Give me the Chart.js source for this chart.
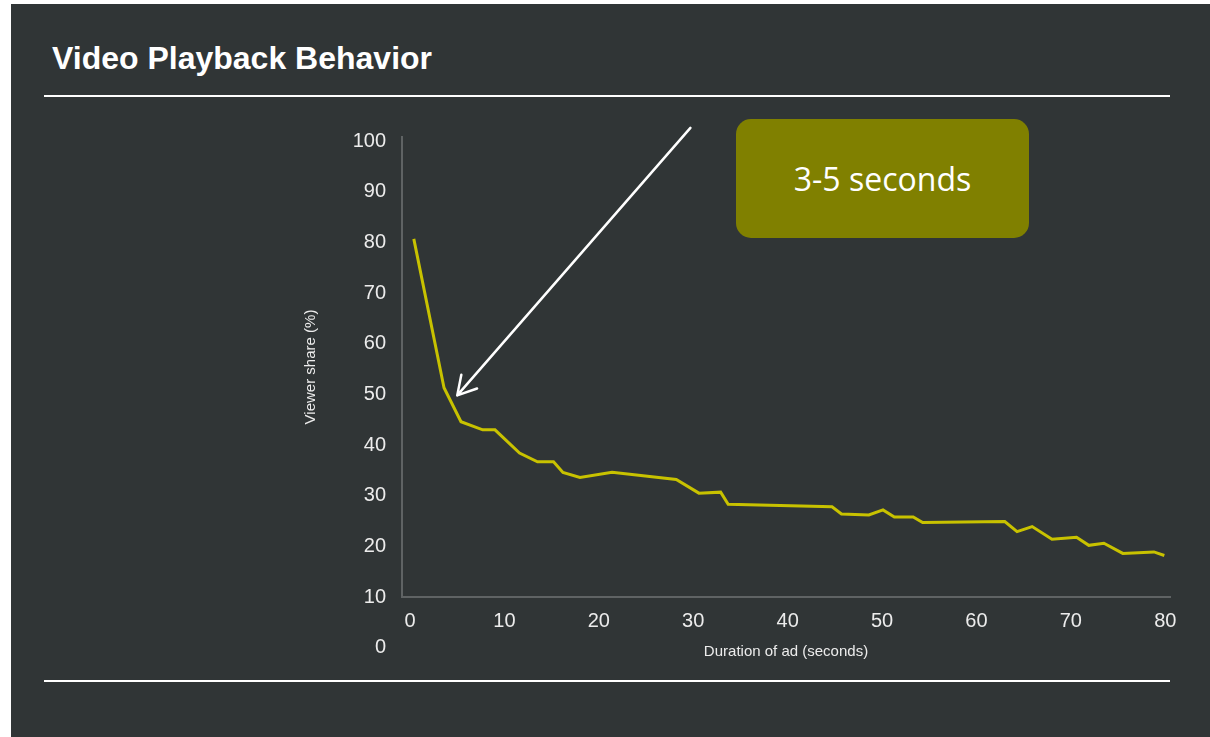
<!DOCTYPE html>
<html>
<head>
<meta charset="utf-8">
<script src="https://cdn.jsdelivr.net/npm/chart.js@4"></script>
<style>
    body { margin: 0; background: #ffffff; }
    #page {
        position: absolute; left: 11px; top: 4px; width: 1199px; height: 733px;
        background: #303536; overflow: hidden;
    }
    #title {
        position: absolute; left: 41px; top: 36px;
        font: bold 32px "Liberation Sans", Arial, sans-serif; color: #ffffff;
    }
    .rule { position: absolute; left: 33px; width: 1126px; height: 2px; background: #ffffff; }
    #box {
        position: absolute; left: 725px; top: 115px; width: 293px; height: 119px;
        background: #808000; border-radius: 15px;
        display: flex; align-items: center; justify-content: center;
        font: 32px "Open Sans", sans-serif; color: #ffffff;
    }
    #wrap { position: absolute; left: -11px; top: -4px; width: 1210px; height: 737px; }
</style>
</head>
<body>
<div id="page">
    <div id="title">Video Playback Behavior</div>
    <div class="rule" style="top: 91px;"></div>
    <div class="rule" style="top: 676px;"></div>
    <div id="wrap"><canvas id="playback"></canvas></div>
    <div id="box">3-5 seconds</div>
</div>

<script>
// data
const xSeconds = [0.4, 3.6, 5.4, 7.7, 9.0, 11.6, 13.5, 15.2, 16.2, 18.0, 21.4, 28.2, 30.6, 32.9, 33.7,
    44.7, 45.7, 48.6, 50.1, 51.3, 53.3, 54.3, 63.0, 64.3, 65.9, 68.0, 70.6, 71.9, 73.5, 75.5, 78.8, 79.9];
const viewerShare = [80.7, 51.3, 44.6, 43.0, 43.0, 38.4, 36.7, 36.7, 34.6, 33.6, 34.6, 33.2, 30.5, 30.7, 28.3,
    27.8, 26.4, 26.2, 27.2, 25.8, 25.8, 24.7, 24.9, 22.9, 23.9, 21.4, 21.8, 20.2, 20.6, 18.6, 18.9, 18.2];
const xTicks = [0, 10, 20, 30, 40, 50, 60, 70, 80];
const yTicks = [0, 10, 20, 30, 40, 50, 60, 70, 80, 90, 100];

// arrow annotation, in data units
const arrowTail = { x: 29.7, y: 102.6 };
const arrowTip = { x: 5.0, y: 49.8 };

const tickColor = "#ececec";
const axisColor = "#5f6364";

const arrowPlugin = {
    id: "arrow",
    afterDraw(chart) {
        const { ctx, scales } = chart;
        const x1 = scales.x.getPixelForValue(arrowTail.x), y1 = scales.y.getPixelForValue(arrowTail.y);
        const x2 = scales.x.getPixelForValue(arrowTip.x), y2 = scales.y.getPixelForValue(arrowTip.y);
        const ang = Math.atan2(y1 - y2, x1 - x2);
        const len = 21;
        ctx.save();
        ctx.strokeStyle = "#ffffff";
        ctx.lineWidth = 2.5;
        ctx.lineCap = "round";
        ctx.beginPath();
        ctx.moveTo(x1, y1);
        ctx.lineTo(x2, y2);
        [-0.52, 0.52].forEach(a => {
            ctx.moveTo(x2, y2);
            ctx.lineTo(x2 + len * Math.cos(ang + a), y2 + len * Math.sin(ang + a));
        });
        ctx.stroke();
        ctx.restore();
    }
};

new Chart(document.getElementById("playback"), {
    type: "line",
    data: {
        datasets: [{
            label: "Viewer share",
            data: xSeconds.map((x, i) => ({ x: x, y: viewerShare[i] })),
            borderColor: "#c8c200",
            borderWidth: 3,
            pointRadius: 0,
            tension: 0,
            fill: false
        }]
    },
    options: {
        responsive: true,
        maintainAspectRatio: false,
        animation: false,
        layout: { padding: { left: 290, top: 137, right: 40, bottom: 76 } },
        plugins: { legend: { display: false }, tooltip: { enabled: false } },
        scales: {
            x: {
                type: "linear",
                min: -0.85,
                max: 80.5,
                afterBuildTicks: s => { s.ticks = xTicks.map(v => ({ value: v })); },
                afterFit: s => { s.height = 64; },
                grid: { display: false, drawTicks: false },
                border: { display: true, color: axisColor, width: 2 },
                ticks: {
                    color: tickColor, padding: 12, maxRotation: 0, autoSkip: false,
                    font: { family: "'Liberation Sans', Arial", size: 20 }
                },
                title: {
                    display: true, text: "Duration of ad (seconds)", color: tickColor,
                    padding: { top: 0, bottom: 0 },
                    font: { family: "'Liberation Sans', Arial", size: 15 }
                }
            },
            y: {
                min: 10,
                max: 100.8,
                afterBuildTicks: s => { s.ticks = yTicks.map(v => ({ value: v })); },
                afterFit: s => { s.width = 112; },
                grid: { display: false, drawTicks: false },
                border: { display: true, color: axisColor, width: 2 },
                ticks: {
                    color: tickColor, padding: 16, autoSkip: false,
                    font: { family: "'Liberation Sans', Arial", size: 20 }
                },
                title: {
                    display: true, text: "Viewer share (%)", color: tickColor,
                    padding: { top: 12, bottom: 0 },
                    font: { family: "'Liberation Sans', Arial", size: 15 }
                }
            }
        }
    },
    plugins: [arrowPlugin]
});
</script>
</body>
</html>
